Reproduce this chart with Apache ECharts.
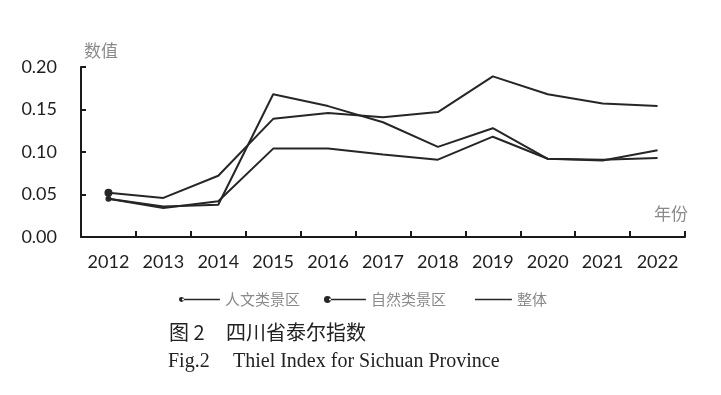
<!DOCTYPE html>
<html>
<head>
<meta charset="utf-8">
<script src="https://cdn.jsdelivr.net/npm/echarts@6/dist/echarts.min.js"></script>
<style>
html,body{margin:0;padding:0;background:#fff;}
#chart{width:721px;height:395px;}
</style>
</head>
<body>
<div id="chart"></div>
<script>
const years = ['2012','2013','2014','2015','2016','2017','2018','2019','2020','2021','2022'];
const renwen = [0.045, 0.034, 0.042, 0.104, 0.104, 0.097, 0.091, 0.118, 0.092, 0.091, 0.093];
const ziran  = [0.052, 0.046, 0.072, 0.139, 0.146, 0.141, 0.147, 0.189, 0.168, 0.157, 0.154];
const zhengti = [0.045, 0.036, 0.038, 0.168, 0.154, 0.135, 0.106, 0.128, 0.092, 0.090, 0.102];
const seriesNames = ['人文类景区', '自然类景区', '整体'];
const yTicks = [0, 0.05, 0.10, 0.15, 0.20];

const lineColor = '#262626';
const corners = 'M0,0h0.01v0.01h-0.01z M42,8h0.01v0.01h-0.01z ';
const icons = [
  'path://' + corners + 'M1,4a2.5,2.5 0 1,0 5,0a2.5,2.5 0 1,0 -5,0z M4,3.2h38v1.6h-38z',
  'path://' + corners + 'M0,4a3.5,3.5 0 1,0 7,0a3.5,3.5 0 1,0 -7,0z M5,3.2h37v1.6h-37z',
  'path://' + corners + 'M5,3.2h37v1.6h-37z'
];

function mkSeries(name, data, firstSize) {
  return {
    name: name,
    type: 'line',
    data: data,
    symbol: 'circle',
    showSymbol: true,
    symbolSize: function (v, p) { return p.dataIndex === 0 ? firstSize : 0; },
    lineStyle: { color: lineColor, width: 2 },
    itemStyle: { color: lineColor },
    emphasis: { disabled: true },
    animation: false
  };
}

const chart = echarts.init(document.getElementById('chart'));
chart.setOption({
  backgroundColor: '#fff',
  animation: false,
  grid: { left: 81, right: 36, top: 67, bottom: 158, containLabel: false },
  xAxis: {
    type: 'category',
    data: years,
    boundaryGap: true,
    axisLine: { lineStyle: { color: '#1a1a1a', width: 2 } },
    axisTick: { show: true, inside: true, length: 6, alignWithLabel: false, lineStyle: { color: '#1a1a1a', width: 2 } },
    axisLabel: { margin: 16, fontFamily: 'Lato', fontSize: 18, color: '#1e1e1e', interval: 0 },
    splitLine: { show: false }
  },
  yAxis: {
    type: 'value',
    min: yTicks[0],
    max: yTicks[yTicks.length - 1],
    interval: 0.05,
    axisLine: { show: true, lineStyle: { color: '#1a1a1a', width: 2 } },
    axisTick: { show: true, inside: true, length: 5, lineStyle: { color: '#1a1a1a', width: 2 } },
    axisLabel: { margin: 24, fontFamily: 'Lato', fontSize: 18, color: '#1e1e1e',
      formatter: function (v) { return v.toFixed(2); } },
    splitLine: { show: false }
  },
  legend: {
    left: 178,
    top: 292,
    padding: 0,
    itemGap: 24,
    itemWidth: 42,
    itemHeight: 8,
    textStyle: { fontFamily: 'Noto Sans CJK SC', fontSize: 15, color: '#8a8a8a' },
    data: seriesNames.map(function (n, i) { return { name: n, icon: icons[i] }; })
  },
  title: [
    { text: '数值', left: 84, top: 42, padding: 0,
      textStyle: { fontFamily: 'Noto Sans CJK SC', fontSize: 17, fontWeight: 'normal', color: '#8a8a8a' } },
    { text: '年份', left: 654, top: 205, padding: 0,
      textStyle: { fontFamily: 'Noto Sans CJK SC', fontSize: 17, fontWeight: 'normal', color: '#8a8a8a' } },
    { text: '图 2', left: 169, top: 322, padding: 0,
      textStyle: { fontFamily: 'Noto Sans CJK SC', fontSize: 20, fontWeight: 'normal', color: '#222' } },
    { text: '四川省泰尔指数', left: 226, top: 322, padding: 0,
      textStyle: { fontFamily: 'Noto Sans CJK SC', fontSize: 20, fontWeight: 'normal', color: '#222' } },
    { text: 'Fig.2', left: 168, top: 352, padding: 0,
      textStyle: { fontFamily: 'Liberation Serif', fontSize: 20, fontWeight: 'normal', color: '#222' } },
    { text: 'Thiel Index for Sichuan Province', left: 233, top: 352, padding: 0,
      textStyle: { fontFamily: 'Liberation Serif', fontSize: 20, fontWeight: 'normal', color: '#222' } }
  ],
  series: [
    mkSeries(seriesNames[0], renwen, 6),
    mkSeries(seriesNames[1], ziran, 8),
    mkSeries(seriesNames[2], zhengti, 0)
  ]
});
</script>
</body>
</html>
